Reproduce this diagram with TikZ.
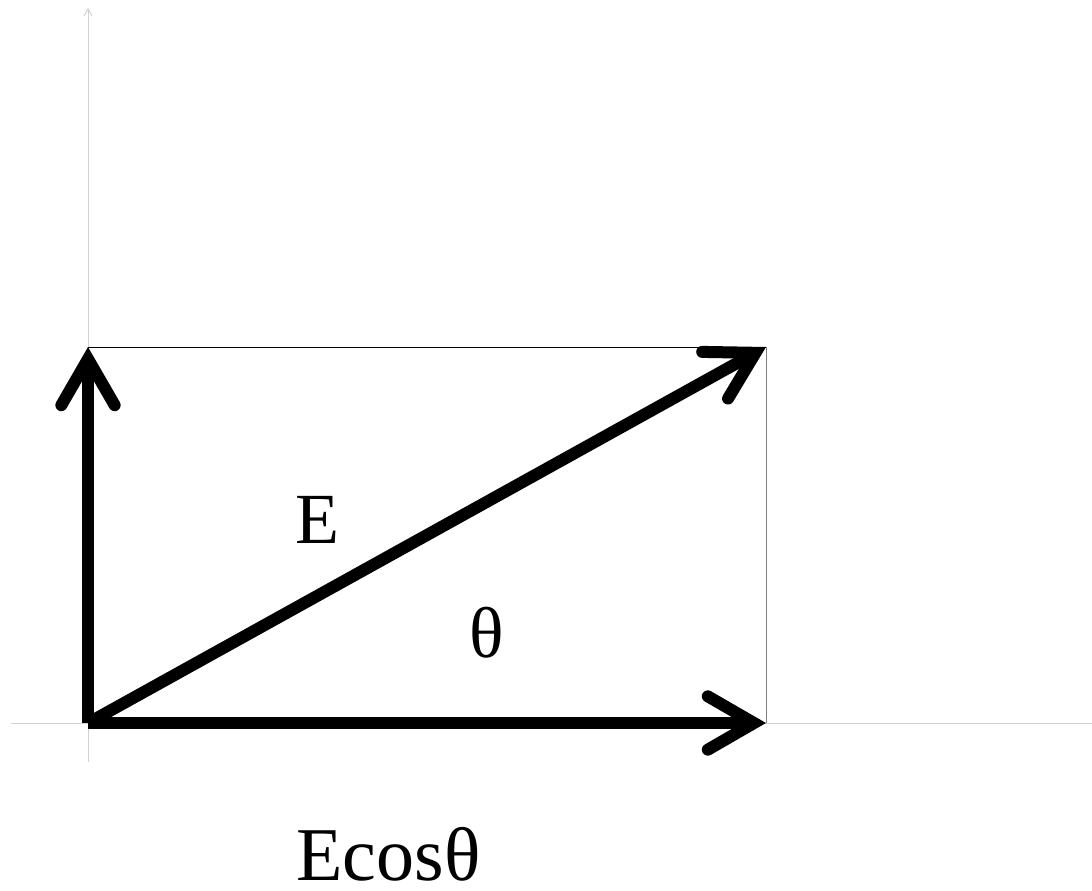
\documentclass[tikz,border=0pt]{standalone}
\usepackage{fontspec}
\setmainfont{Liberation Serif}
\usetikzlibrary{calc,arrows.meta}
\begin{document}
\begin{tikzpicture}[x=0.75pt,y=-0.75pt,
  axis/.style={draw=black!18, line width=0.75pt},
  frame/.style={line width=0.75pt},
  shaft/.style={line width=9pt, line cap=butt},
  barb/.style={line width=9pt, line cap=round, line join=miter, miter limit=10},
  lbl/.style={font=\fontsize{54}{60}\selectfont, inner sep=0pt, anchor=base west}]
\useasboundingbox (0,0) rectangle (1092,891);
\coordinate (O) at (88,723);
\coordinate (X) at (766,723);
\coordinate (Y) at (88,347);
\coordinate (P) at (766,347);
\coordinate (axL) at (11,723);
\coordinate (axR) at (1092,723);
\coordinate (ayB) at (88,762);
\coordinate (ayT) at (88,8);
% axes
\draw[axis] (axL) -- (axR);
\draw[axis,-{Straight Barb[length=5pt,width=6pt]}] (ayB) -- (ayT);
% frame
\draw[frame] (Y) -- (P);
\draw[frame,draw=black!50] (P) -- (X);
% thick arrows
\foreach \t in {X,Y,P}{
  \coordinate (V) at ($(\t)!9pt!(O)$);
  \draw[shaft] (O) -- ($(\t)!16pt!(O)$);
  \draw[barb] ($(V)!40pt!30:(O)$) -- (V) -- ($(V)!40pt!-30:(O)$);
}
% labels
\node[lbl] (lE) at (295,543) {E};
\node[lbl] (lth) at (469,657) {θ};
\node[lbl,font=\fontsize{57}{64}\selectfont] (lEc) at (296,880) {Ecosθ};
\end{tikzpicture}
\end{document}
